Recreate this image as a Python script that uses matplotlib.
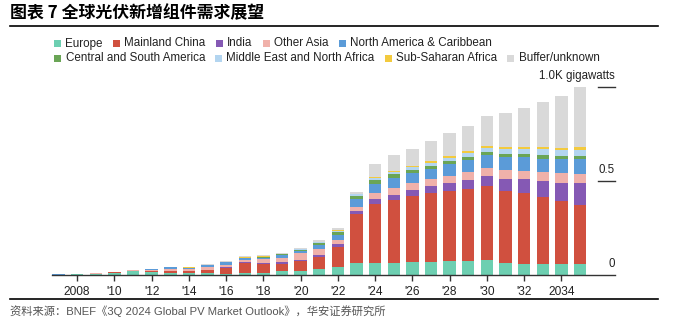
import matplotlib
matplotlib.use("Agg")
import matplotlib.pyplot as plt
from matplotlib.patches import Rectangle
from matplotlib.lines import Line2D
import matplotlib.transforms as mtransforms
import numpy as np

plt.rcParams['font.family'] = ['Liberation Sans', 'Noto Sans CJK SC', 'DejaVu Sans']

years = list(range(2007, 2036))
series_names = ["Europe", "Mainland China", "India", "Other Asia", "North America & Caribbean",
                "Central and South America", "Middle East and North Africa", "Sub-Saharan Africa",
                "Buffer/unknown"]
colors = ["#6dcfb1", "#d0503f", "#8559b4", "#f0b1aa", "#5b9bd8",
          "#6aa556", "#b3d5f0", "#f3ca3e", "#d9d9d9"]

# values in thousand GW (segments), 2007..2035
europe = [.002, .005, .006, .013, .021, .017, .011, .008, .008, .007, .009, .012, .023, .023, .030,
          .041, .062, .066, .066, .069, .071, .073, .074, .080, .064, .058, .058, .057, .057]
china = [.0003, .0005, .001, .001, .002, .004, .010, .011, .019, .028, .053, .045, .036, .050, .066,
         .106, .264, .312, .333, .351, .363, .373, .385, .393, .385, .376, .355, .335, .314]
india = [0, 0, 0, 0, 0, .001, .001, .001, .002, .006, .009, .009, .010, .007, .012,
         .018, .013, .026, .028, .032, .038, .042, .048, .054, .063, .075, .089, .099, .117]
other_asia = [.0003, .0005, .001, .002, .002, .004, .011, .010, .013, .014, .011, .017, .023, .035, .029,
              .021, .021, .034, .038, .036, .037, .039, .041, .042, .045, .046, .048, .050, .049]
north_america = [.0003, .0005, .001, .001, .002, .004, .007, .007, .009, .012, .008, .009, .013, .014, .023,
                 .027, .042, .048, .049, .053, .055, .063, .064, .068, .069, .071, .069, .074, .078]
central_south_america = [0, 0, 0, 0, 0, 0, .0005, .001, .001, .001, .002, .004, .005, .006, .011,
                         .017, .020, .019, .023, .018, .018, .018, .014, .015, .016, .018, .018, .018, .018]
mena = [0, 0, 0, 0, 0, 0, 0, .001, .001, .001, .001, .002, .002, .002, .003,
        .006, .007, .009, .011, .014, .016, .014, .021, .025, .028, .028, .031, .032, .032]
sub_saharan = [0, 0, 0, 0, 0, 0, 0, .001, .001, .001, .001, .001, .001, .002, .002,
               .002, .004, .005, .006, .007, .008, .010, .011, .011, .011, .011, .011, .012, .014]
buffer_unknown = [0, 0, 0, 0, .001, .001, .002, .004, .003, .006, .005, .006, .004, .006, .008,
                  .011, .010, .074, .085, .090, .107, .125, .136, .158, .179, .207, .239, .277, .319]

series = [europe, china, india, other_asia, north_america, central_south_america, mena,
          sub_saharan, buffer_unknown]

tick_years = list(range(2008, 2035, 2))
tick_labels = ["2008"] + ["'%02d" % (y % 100) for y in tick_years[1:-1]] + ["2034"]
y_ticks = [0, 0.5, 1.0]
y_labels = ["0", "0.5", "1.0K gigawatts"]

W, H = 679, 327
fig = plt.figure(figsize=(W / 100, H / 100), dpi=100)
ax = fig.add_axes([52 / W, 1 - 275 / H, (615 - 52) / W, 188 / H])

bottom = np.zeros(len(years))
for vals, col in zip(series, colors):
    v = np.array(vals)
    ax.bar(years, v, bottom=bottom, width=0.67, color=col, linewidth=0)
    bottom += v

ax.set_xlim(2006.65, 2036.88)
ax.set_ylim(0, 1.0)
for s in ["top", "left", "right"]:
    ax.spines[s].set_visible(False)
ax.spines["bottom"].set_color("#333333")
ax.spines["bottom"].set_linewidth(1.0)
ax.set_xticks(tick_years)
ax.set_xticklabels(tick_labels)
ax.tick_params(axis="x", direction="out", length=4, width=1, color="#333333",
               labelsize=8.6, labelcolor="#222222", pad=4)
ax.set_yticks([])

trans = mtransforms.blended_transform_factory(ax.transAxes, ax.transData)
for yv, lab in zip(y_ticks, y_labels):
    if yv > 0:
        ax.add_line(Line2D([0.97, 1.0], [yv, yv], transform=trans, color="#333333",
                           lw=1.0, clip_on=False))
    ax.annotate(lab, xy=(1.0, yv), xycoords=trans, xytext=(0, 7.8), textcoords="offset points",
                ha="right", va="center", fontsize=8.3, color="#222222", annotation_clip=False)

# Legend (flow layout in pixel coordinates)
renderer = fig.canvas.get_renderer()
rows = [(43.5, series_names[:5], colors[:5]), (58.3, series_names[5:], colors[5:])]
for ypix, names, cols in rows:
    x = 54
    for name, col in zip(names, cols):
        fig.patches.append(Rectangle((x / W, 1 - (ypix + 3.5) / H), 7 / W, 7 / H,
                                     transform=fig.transFigure, color=col, linewidth=0))
        t = fig.text((x + 11.5) / W, 1 - ypix / H, name, fontsize=8.4, color="#222222",
                     ha="left", va="center")
        bb = t.get_window_extent(renderer=renderer)
        x = x + 11.5 + bb.width + 10

# Title and frame lines
fig.text(10 / W, 1 - 13 / H, "图表 7 全球光伏新增组件需求展望", fontsize=12.2, weight="bold",
         family=["Noto Sans CJK SC", "DejaVu Sans"], ha="left", va="center", color="#000000")
fig.add_artist(Line2D([10 / W, 658 / W], [1 - 25.5 / H, 1 - 25.5 / H], transform=fig.transFigure,
                      color="#000000", lw=1.2))
fig.add_artist(Line2D([10 / W, 658 / W], [1 - 299 / H, 1 - 299 / H], transform=fig.transFigure,
                      color="#000000", lw=1.2))
fig.text(10 / W, 1 - 311 / H, "资料来源：BNEF《3Q 2024 Global PV Market Outlook》，华安证券研究所",
         fontsize=8.1, color="#555555", ha="left", va="center")

fig.savefig("out.png", dpi=100)
